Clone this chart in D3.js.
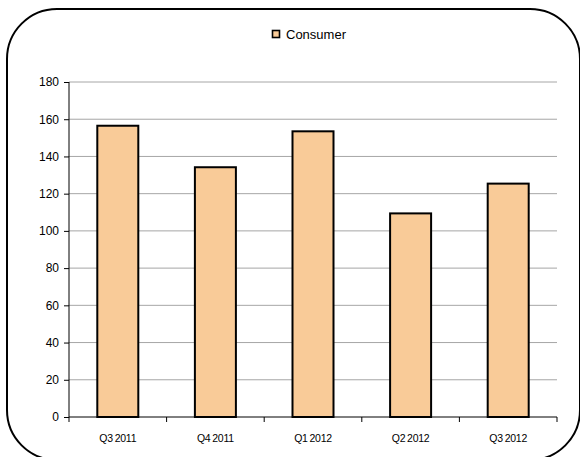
<!DOCTYPE html>
<html><head><meta charset="utf-8">
<script src="https://cdn.jsdelivr.net/npm/d3@7/dist/d3.min.js"></script>
<style>body{margin:0;background:#fff;}svg{display:block;font-family:"Liberation Sans",Arial,sans-serif;}</style>
</head><body>
<script>
const categories = ["Q3 2011","Q4 2011","Q1 2012","Q2 2012","Q3 2012"];
const consumer = [156.5, 134.2, 153.5, 109.4, 125.4];
const yTicks = [0,20,40,60,80,100,120,140,160,180];
const seriesName = "Consumer";

(function(){
const W=580,H=457;
const svg=d3.select("body").append("svg").attr("width",W).attr("height",H);
svg.append("rect").attr("x",7).attr("y",9).attr("width",573).attr("height",451)
  .attr("rx",50).attr("ry",50).attr("fill","#fff").attr("stroke","#000").attr("stroke-width",2);

const pl=69,pr=557,pt=82,pb=417;
const x=d3.scaleBand().domain(categories).range([pl,pr]);
const y=d3.scaleLinear().domain([0,180]).range([pb,pt]);

// gridlines
svg.append("g").selectAll("line").data(yTicks.filter(d=>d>0)).join("line")
  .attr("x1",pl).attr("x2",pr).attr("y1",d=>y(d)).attr("y2",d=>y(d))
  .attr("stroke","#a6a6a6").attr("stroke-width",1);

// bars
const bw=41;
svg.append("g").selectAll("rect").data(consumer).join("rect")
  .attr("x",(d,i)=>x(categories[i])+x.bandwidth()/2-bw/2)
  .attr("y",d=>y(d)).attr("width",bw).attr("height",d=>pb-y(d))
  .attr("fill","#F9CB98").attr("stroke","#000").attr("stroke-width",2);

// y axis
const ya=svg.append("g").attr("transform",`translate(${pl},0)`)
  .call(d3.axisLeft(y).tickValues(yTicks).tickSize(5).tickPadding(5));
ya.select(".domain").attr("stroke","#000").attr("d",`M0,${pt}V${pb}`);
ya.selectAll("line").attr("stroke","#000");
ya.selectAll("text").attr("font-size",12).attr("fill","#000").attr("font-family","Liberation Sans, Arial, sans-serif");

// x axis
const xa=svg.append("g").attr("transform",`translate(0,${pb})`);
xa.append("line").attr("x1",pl).attr("x2",pr).attr("stroke","#000");
const bounds=categories.map(c=>x(c)).concat([pr]);
xa.selectAll("line.t").data(bounds).join("line").attr("class","t")
  .attr("x1",d=>d).attr("x2",d=>d).attr("y1",0).attr("y2",5).attr("stroke","#000");
xa.selectAll("text").data(categories).join("text")
  .attr("x",d=>x(d)+x.bandwidth()/2).attr("y",24.5)
  .attr("text-anchor","middle").attr("font-size",10.5).attr("letter-spacing","-0.25")
  .text(d=>d.replace(" ","\u2009"));

// legend
const lg=svg.append("g");
lg.append("rect").attr("x",272.5).attr("y",30.5).attr("width",7).attr("height",7)
  .attr("fill","#F9CB98").attr("stroke","#000").attr("stroke-width",1.6);
lg.append("text").attr("x",286).attr("y",39).attr("font-size",13).text(seriesName);
})();
</script>
</body></html>
